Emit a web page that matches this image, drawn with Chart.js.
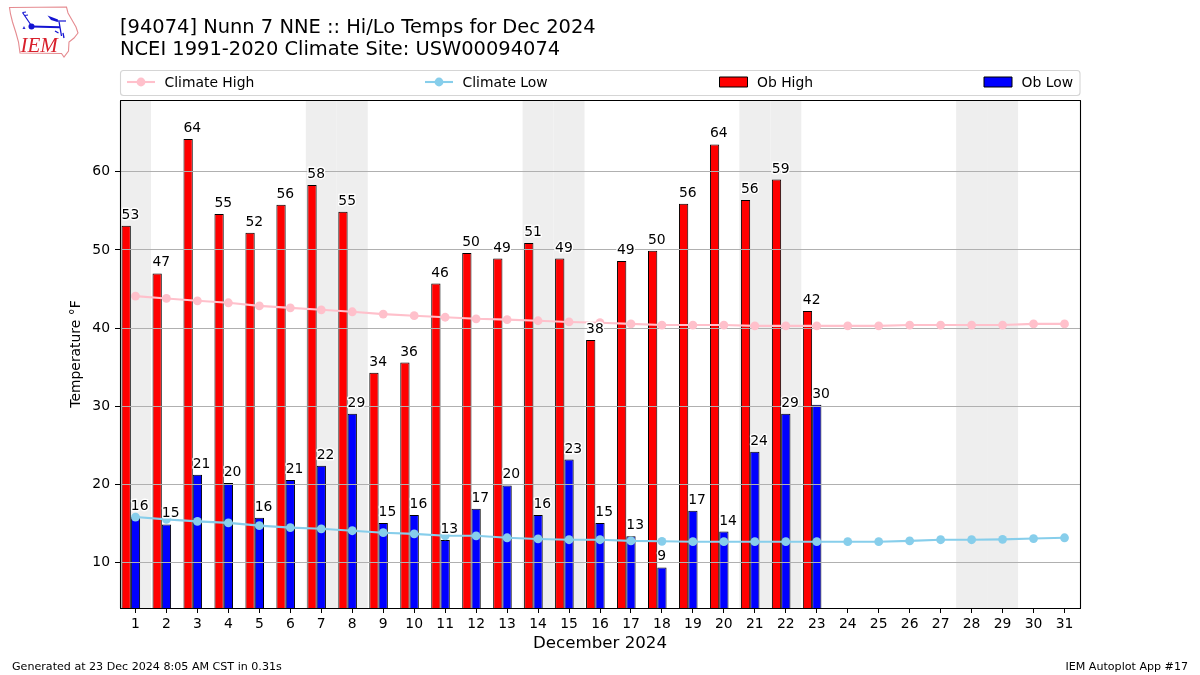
<!DOCTYPE html>
<html>
<head>
<meta charset="utf-8">
<title>Hi/Lo Temps</title>
<script src="https://cdn.jsdelivr.net/npm/chart.js@4"></script>
<style>
html,body{margin:0;padding:0;background:#fff;}
#wrap{position:relative;width:1200px;height:675px;overflow:hidden;}
canvas{position:absolute;left:0;top:0;}
#logo{position:absolute;left:0;top:0;}
</style>
</head>
<body>
<div id="wrap">
<canvas id="c" width="1200" height="675"></canvas>
<svg id="logo" width="90" height="65" viewBox="0 0 90 65" xmlns="http://www.w3.org/2000/svg">
  <path d="M9.5 7.5 L66.5 7 L68 13 L72 20 L76 27 L78 33 L74 38 L69 42 L68.5 51 L64 57 L61.5 53.5 L20 53 L18.5 42 L16 33 L12.5 22 L10.5 14 Z" fill="#fff" stroke="#e58b90" stroke-width="1.1"/>
  <g stroke="#1414d2" fill="none">
    <path d="M31.5 26.5 L60 27.2" stroke-width="2"/>
    <path d="M31 25 L22.5 12.5 M22.5 12.5 L26 12 M24.5 15.5 L28 15" stroke-width="1.2"/>
    <path d="M59 21.5 L61.5 36 M55 31 L58.5 33 M63 33 L64 38" stroke-width="1.3"/>
    <path d="M57 21 L66 21" stroke-width="1.2"/>
  </g>
  <circle cx="31.5" cy="26.5" r="3" fill="#1414d2"/>
  <path d="M47.5 15.5 L58 19.5 L57.5 22 L51 20 Z" fill="#1414d2"/>
  <path d="M24 26 L25.5 29 L22.5 29 Z" fill="#2a2ad8"/>
  <text x="20.5" y="52" font-family="Liberation Serif" font-style="italic" font-size="21" fill="#d8202c">IEM</text>
</svg>
</div>
<script>
const days = ['1','2','3','4','5','6','7','8','9','10','11','12','13','14','15','16','17','18','19','20','21','22','23','24','25','26','27','28','29','30','31'];
const climateHigh = [44.1,43.8,43.5,43.25,42.85,42.6,42.35,42.1,41.8,41.6,41.4,41.2,41.1,40.95,40.8,40.7,40.55,40.4,40.4,40.4,40.3,40.3,40.3,40.3,40.3,40.4,40.4,40.4,40.4,40.55,40.55];
const climateLow = [15.85,15.55,15.3,15.1,14.75,14.5,14.35,14.1,13.85,13.7,13.45,13.45,13.2,13.05,12.95,12.95,12.8,12.75,12.7,12.7,12.7,12.7,12.7,12.7,12.7,12.8,12.95,12.95,13.0,13.1,13.2];
const obHigh = [53.1,47.0,64.2,54.6,52.2,55.8,58.3,54.9,34.3,35.6,45.7,49.6,48.9,50.9,48.9,38.5,48.6,49.9,55.9,63.5,56.4,59.0,42.2];
const obLow = [15.9,14.9,21.25,20.2,15.75,20.6,22.4,29.05,15.1,16.1,12.9,16.9,19.9,16.1,23.2,15.1,13.4,9.4,16.65,14.0,24.2,29.05,30.2];
const obHighLabels = ['53','47','64','55','52','56','58','55','34','36','46','50','49','51','49','38','49','50','56','64','56','59','42'];
const obLowLabels = ['16','15','21','20','16','21','22','29','15','16','13','17','20','16','23','15','13','9','17','14','24','29','30'];
const weekendDays = ['1','7','8','14','15','21','22','28','29'];
const titleLines = ['[94074] Nunn 7 NNE :: Hi/Lo Temps for Dec 2024','NCEI 1991-2020 Climate Site: USW00094074'];
const footerLeft = 'Generated at 23 Dec 2024 8:05 AM CST in 0.31s';
const footerRight = 'IEM Autoplot App #17';

const FONT = '"DejaVu Sans"';
Chart.defaults.font.family = FONT;
Chart.defaults.color = '#000';

const layering = {
  id: 'layering',
  beforeDatasetsDraw(chart) {
    const {ctx, chartArea: a, scales: {x}} = chart;
    const step = a.width / days.length;
    ctx.save();
    ctx.fillStyle = '#eeeeee';
    weekendDays.forEach(d => {
      const px = x.getPixelForValue(days.indexOf(d));
      ctx.fillRect(px - step / 2, a.top, step, a.height);
    });
    ctx.restore();
    chart.$gridDone = false;
  },
  beforeDatasetDraw(chart, args) {
    if (chart.$gridDone || args.meta.type !== 'line') return;
    chart.$gridDone = true;
    const {ctx, chartArea: a, scales: {y}} = chart;
    ctx.save();
    ctx.strokeStyle = '#b0b0b0';
    ctx.lineWidth = 1;
    y.ticks.forEach(t => {
      const py = Math.floor(y.getPixelForValue(t.value)) + 0.5;
      ctx.beginPath();
      ctx.moveTo(a.left, py);
      ctx.lineTo(a.right, py);
      ctx.stroke();
    });
    ctx.restore();
  },
  afterDraw(chart) {
    const {ctx, chartArea: a} = chart;
    ctx.save();
    // bar value labels with white halo
    ctx.font = '13.9px ' + FONT;
    ctx.textAlign = 'left';
    ctx.textBaseline = 'alphabetic';
    ctx.lineJoin = 'round';
    [[2, obHighLabels], [3, obLowLabels]].forEach(([idx, labels]) => {
      chart.getDatasetMeta(idx).data.forEach((bar, i) => {
        const tx = bar.x - bar.width / 2;
        const ty = bar.y - 7;
        ctx.strokeStyle = '#fff';
        ctx.lineWidth = 2.8;
        ctx.strokeText(labels[i], tx, ty);
        ctx.fillStyle = '#000';
        ctx.fillText(labels[i], tx, ty);
      });
    });
    // frame
    ctx.strokeStyle = '#000';
    ctx.lineWidth = 1.1;
    ctx.strokeRect(a.left + 0.5, a.top + 0.5, a.width, a.height);
    // legend
    ctx.strokeStyle = '#d5d5d5';
    ctx.lineWidth = 1.1;
    ctx.fillStyle = '#fff';
    ctx.beginPath();
    ctx.roundRect(120.5, 70.5, 959.5, 25, 3);
    ctx.fill();
    ctx.stroke();
    const cols = [127, 425, 719.5, 984];
    const yMid = 82;
    ctx.font = '13.9px ' + FONT;
    [0, 1, 2, 3].forEach((idx, k) => {
      const ds = chart.data.datasets[idx];
      const lx = cols[k];
      if (ds.type === 'line') {
        ctx.strokeStyle = ds.borderColor;
        ctx.lineWidth = ds.borderWidth;
        ctx.beginPath();
        ctx.moveTo(lx, yMid);
        ctx.lineTo(lx + 28, yMid);
        ctx.stroke();
        ctx.fillStyle = ds.pointBackgroundColor;
        ctx.beginPath();
        ctx.arc(lx + 14, yMid, ds.pointRadius, 0, Math.PI * 2);
        ctx.fill();
      } else {
        ctx.fillStyle = ds.backgroundColor;
        ctx.strokeStyle = '#000';
        ctx.lineWidth = 1;
        ctx.fillRect(lx, 77, 28, 10);
        ctx.strokeRect(lx, 77, 28, 10);
      }
      ctx.fillStyle = '#000';
      ctx.fillText(ds.label, lx + 37.5, 86.5);
    });
    // footer
    ctx.font = '11.1px ' + FONT;
    ctx.fillStyle = '#000';
    ctx.textAlign = 'left';
    ctx.fillText(footerLeft, 12, 670);
    ctx.textAlign = 'right';
    ctx.fillText(footerRight, 1188, 670);
    ctx.restore();
  }
};

new Chart(document.getElementById('c'), {
  data: {
    labels: days,
    datasets: [
      {type:'line', label:'Climate High', data:climateHigh, borderColor:'#ffc0cb', backgroundColor:'#ffc0cb', pointBackgroundColor:'#ffc0cb', pointRadius:4.4, pointBorderWidth:0, borderWidth:2.1, tension:0, order:1},
      {type:'line', label:'Climate Low', data:climateLow, borderColor:'#87ceeb', backgroundColor:'#87ceeb', pointBackgroundColor:'#87ceeb', pointRadius:4.4, pointBorderWidth:0, borderWidth:2.1, tension:0, order:0},
      {type:'bar', label:'Ob High', data:obHigh, backgroundColor:'#ff0000', borderColor:'#000', borderWidth:1, borderSkipped:false, categoryPercentage:0.9, barPercentage:1, order:2},
      {type:'bar', label:'Ob Low', data:obLow, backgroundColor:'#0000ff', borderColor:'#000', borderWidth:1, borderSkipped:false, categoryPercentage:0.9, barPercentage:1, order:3},
      {type:'bar', label:'', data:[], categoryPercentage:0.9, barPercentage:1, order:4}
    ]
  },
  options: {
    responsive: false,
    animation: false,
    events: [],
    layout: {padding: {left:0, right:120, top:0, bottom:0}},
    plugins: {
      legend: {display:false},
      tooltip: {enabled:false},
      title: {
        display:true, text:titleLines, align:'start', fullSize:false, color:'#000',
        font:{size:19.44, lineHeight:1.116, weight:'normal'},
        padding:{top:17.6, bottom:39}
      }
    },
    scales: {
      x: {
        type:'category',
        offset:true,
        afterFit(s){ s.height = 67; },
        grid:{drawOnChartArea:false, tickLength:5, tickColor:'#000', tickWidth:1, offset:false},
        border:{display:false},
        ticks:{autoSkip:false, maxRotation:0, minRotation:0, padding:3, color:'#000', font:{size:13.9}},
        title:{display:true, text:'December 2024', color:'#000', font:{size:16.67}, padding:{top:0, bottom:21}}
      },
      y: {
        type:'linear',
        min:4.22, max:69.18,
        afterFit(s){ s.width = 120; },
        grid:{drawOnChartArea:false, tickLength:5, tickColor:'#000', tickWidth:1},
        border:{display:false},
        ticks:{stepSize:10, includeBounds:false, padding:5, color:'#000', font:{size:13.9}, callback:v=>String(v)},
        title:{display:true, text:'Temperature °F', color:'#000', font:{size:13.9}, padding:{top:68, bottom:0}}
      }
    }
  },
  plugins:[layering]
});
</script>
</body>
</html>
